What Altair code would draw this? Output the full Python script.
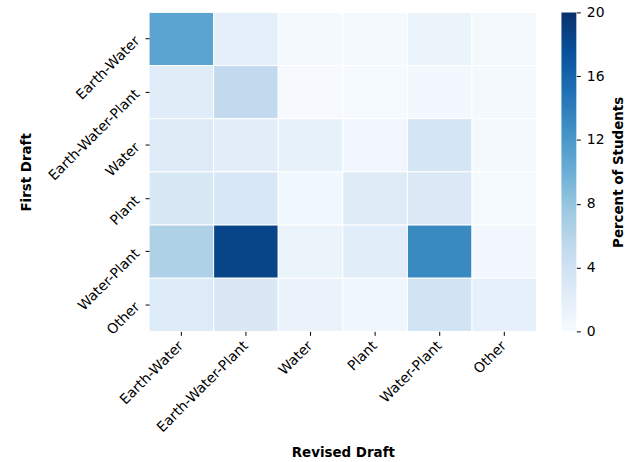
import altair as alt
import pandas as pd

# Categories (rows = first draft, columns = revised draft)
categories = ["Earth-Water", "Earth-Water-Plant", "Water", "Plant", "Water-Plant", "Other"]

# Percent of students for each first-draft row, across revised-draft columns
row_earth_water = [11.0, 1.9, 0.3, 0.3, 1.2, 0.3]
row_earth_water_plant = [2.3, 5.2, 0.1, 0.2, 0.4, 0.3]
row_water = [2.5, 2.0, 1.6, 0.6, 3.5, 0.3]
row_plant = [3.0, 3.2, 0.7, 2.5, 2.8, 0.2]
row_water_plant = [6.5, 18.5, 1.1, 2.2, 13.1, 0.4]
row_other = [2.6, 2.9, 1.3, 0.8, 3.8, 1.7]

rows = [row_earth_water, row_earth_water_plant, row_water,
        row_plant, row_water_plant, row_other]

records = []
for first, vals in zip(categories, rows):
    for revised, v in zip(categories, vals):
        records.append({"first": first, "revised": revised, "pct": v})
df = pd.DataFrame(records)

# Blues colour ramp
blues = ["#f7fbff", "#deebf7", "#c6dbef", "#9ecae1", "#6baed6",
         "#4292c6", "#2171b5", "#08519c", "#08306b"]
vmin, vmax = 0, 20
stops_domain = [vmin + (vmax - vmin) * i / (len(blues) - 1) for i in range(len(blues))]
ticks = [0, 4, 8, 12, 16, 20]

FONT = "DejaVu Sans"
LABEL_FS = 14
TITLE_FS = 13.5

heat = alt.Chart(df).mark_rect(stroke="white", strokeWidth=1).encode(
    x=alt.X("revised:N", sort=categories,
            scale=alt.Scale(paddingInner=0, paddingOuter=0),
            axis=alt.Axis(title="Revised Draft", labelAngle=-45, labelAlign="right",
                          labelBaseline="middle", labelPadding=8, tickSize=4,
                          titlePadding=11)),
    y=alt.Y("first:N", sort=categories,
            scale=alt.Scale(paddingInner=0, paddingOuter=0),
            axis=alt.Axis(title="First Draft", labelAngle=-45, labelAlign="right",
                          labelBaseline="middle", labelPadding=8, tickSize=4,
                          titlePadding=12)),
    color=alt.Color("pct:Q", legend=None,
                    scale=alt.Scale(domain=stops_domain, range=blues,
                                    interpolate="rgb", clamp=True)),
).properties(width=390, height=321)

gradient = alt.LinearGradient(
    gradient="linear",
    x1=0, x2=0, y1=1, y2=0,
    stops=[alt.GradientStop(color=c, offset=i / (len(blues) - 1))
           for i, c in enumerate(blues)],
)

bar_df = pd.DataFrame({"lo": [vmin], "hi": [vmax]})
colorbar = alt.Chart(bar_df).mark_rect(fill=gradient).encode(
    y=alt.Y("lo:Q", scale=alt.Scale(domain=[vmin, vmax], nice=False),
            axis=alt.Axis(orient="right", values=ticks, title="Percent of Students",
                          titleAngle=270, titleBaseline="top", titlePadding=8,
                          tickSize=4, labelPadding=6, grid=False)),
    y2="hi:Q",
    x=alt.value(0),
    x2=alt.value(15),
).properties(width=15, height=321)

chart = alt.hconcat(heat, colorbar, spacing=24).properties(
    padding={"left": 20, "top": 4, "right": 5, "bottom": 5},
    background="white",
).configure_view(stroke=None).configure_axis(
    domain=False,
    labelFont=FONT, labelFontSize=LABEL_FS, labelColor="#000",
    titleFont=FONT, titleFontSize=TITLE_FS, titleFontWeight="bold", titleColor="#000",
    tickColor="#000", tickWidth=1,
)

chart.save("out.html", embed_options={"renderer": "svg", "actions": False})
